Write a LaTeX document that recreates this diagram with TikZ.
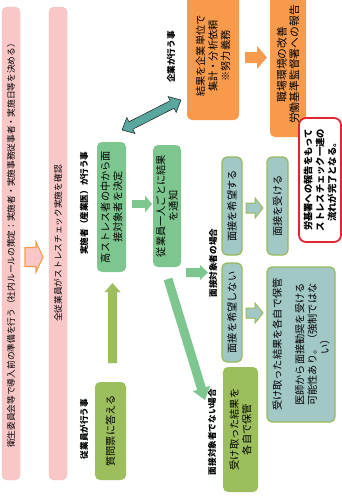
\documentclass[tikz,border=0pt]{standalone}
\usepackage{fontspec}
\setmainfont{Noto Sans CJK JP}
\usetikzlibrary{calc}
\definecolor{pinkc}{RGB}{249,199,199}
\definecolor{pinkd}{RGB}{244,184,184}
\definecolor{orangec}{RGB}{247,154,76}
\definecolor{greenc}{RGB}{126,198,143}
\definecolor{olivec}{RGB}{156,190,92}
\definecolor{olived}{RGB}{150,186,86}
\definecolor{tealc}{RGB}{162,200,198}
\definecolor{tealdark}{RGB}{90,167,160}
\definecolor{redc}{RGB}{230,35,48}
\newcommand{\blockarrow}[6][]{%
  \coordinate (ba-c) at ($(#3)!#6!(#2)$);
  \filldraw[#1] ($(#2)!#4!90:(#3)$) -- ($(ba-c)!#4!90:(#3)$) -- ($(ba-c)!#5!90:(#3)$) -- (#3) -- ($(ba-c)!#5!-90:(#3)$) -- ($(ba-c)!#4!-90:(#3)$) -- ($(#2)!#4!-90:(#3)$) -- cycle;}
\newcommand{\dblockarrow}[6][]{%
  \coordinate (da-a) at ($(#2)!#6!(#3)$);
  \coordinate (da-b) at ($(#3)!#6!(#2)$);
  \filldraw[#1] (#2) -- ($(da-a)!#5!90:(#3)$) -- ($(da-a)!#4!90:(#3)$) -- ($(da-b)!#4!90:(#3)$) -- ($(da-b)!#5!90:(#3)$) -- (#3) -- ($(da-b)!#5!-90:(#3)$) -- ($(da-b)!#4!-90:(#3)$) -- ($(da-a)!#4!-90:(#3)$) -- ($(da-a)!#5!-90:(#3)$) -- cycle;}
\tikzset{
  box/.style={rotate=90, rounded corners=5pt, align=center, inner sep=1pt, font=\fontsize{10.2}{12.5}\selectfont},
  pinkbar/.style={box, fill=pinkc, draw=pinkd, font=\fontsize{8.7}{10}\selectfont, minimum width=473pt, minimum height=18pt},
  greenbox/.style={box, fill=greenc},
  olivebox/.style={box, fill=olivec},
  orangebox/.style={box, fill=orangec},
  tealbox/.style={box, fill=tealc, draw=olived, line width=1.2pt},
  redbox/.style={box, fill=white, draw=redc, line width=1.8pt, rounded corners=7pt, font=\bfseries\fontsize{9.3}{12}\selectfont},
  lbl/.style={rotate=90, inner sep=0pt, font=\bfseries\fontsize{8.6}{10}\selectfont},
  greenarrow/.style={fill=greenc, draw=none},
  olivearrow/.style={fill=olivec, draw=none},
  orangearrow/.style={fill=orangec, draw=none},
  tealarrow/.style={fill=tealc, draw=olived, line width=1pt},
  pinkarrow/.style={fill=pinkc, draw=orangec, line width=1.1pt},
}
\begin{document}
\begin{tikzpicture}[x=1pt, y=-1pt]
\useasboundingbox (0,0) rectangle (342,501);
\fill[white] (0,0) rectangle (342,501);
% bars
\node[pinkbar] (bar1) at (11,243.5) {衛生委員会等で導入前の準備を行う（社内ルールの策定：実施者・実施事務従事者・実施日等を決める）};
\node[pinkbar] (bar2) at (58,243.5) {全従業員がストレスチェック実施を確認};
% labels
\node[lbl] (l1) at (84,429) {従業員が行う事};
\node[lbl] (l2) at (84,203) {実施者（産業医）が行う事};
\node[lbl] (l3) at (171,57) {企業が行う事};
\node[lbl] (l4) at (213,263) {面接対象者の場合};
\node[lbl] (l5) at (212,432) {面接対象者でない場合};
% boxes
\node[olivebox, minimum width=98pt, minimum height=31pt] (q) at (110.5,431) {質問票に答える};
\node[greenbox, minimum width=130pt, minimum height=29pt] (hs) at (111.5,207) {高ストレス者の中から面\\接対象者を決定};
\node[greenbox, minimum width=122pt, minimum height=28pt] (notify) at (167,206) {従業員一人ごとに結果\\を通知};
\node[orangebox, minimum width=128pt, minimum height=52pt] (agg) at (213,56) {結果を企業単位で\\集計・分析依頼\\※努力義務};
\node[orangebox, minimum width=145pt, minimum height=36pt, font=\fontsize{10.8}{12.5}\selectfont] (rep) at (288,64.5) {職場環境の改善\\労働基準監督署への報告};
\node[redbox, minimum width=124pt, minimum height=42pt] (done) at (320,180) {労基署への報告をもって\\ストレスチェック一連の\\流れが完了となる。};
\node[tealbox, minimum width=98pt, minimum height=20pt] (want) at (232,206) {面接を希望する};
\node[tealbox, minimum width=99pt, minimum height=20pt] (nowant) at (232,312.5) {面接を希望しない};
\node[olivebox, minimum width=125pt, minimum height=35pt] (keep) at (240.5,429.5) {受け取った結果を\\各自で保管};
\node[tealbox, minimum width=98pt, minimum height=21pt] (meet) at (277.5,206) {面接を受ける};
\node[tealbox, minimum width=155pt, minimum height=68pt] (keep2) at (301,344.5) {受け取った結果を各自で保管\\[10pt]医師から面接勧奨を受ける\\可能性あり。（強制ではな\\い）};
% arrow end points
\coordinate (a1s) at (25,257);  \coordinate (a1t) at (43,257);
\coordinate (a2s) at (112.5,363); \coordinate (a2t) at (112.5,283);
\coordinate (a3s) at (132,204); \coordinate (a3t) at (152,204);
\coordinate (a4s) at (122,130); \coordinate (a4t) at (181,100);
\coordinate (a5s) at (245,57.5); \coordinate (a5t) at (267,57.5);
\coordinate (a6s) at (186,272.5); \coordinate (a6t) at (208,272.5);
\coordinate (a7s) at (168,279); \coordinate (a7t) at (205,400);
\coordinate (a8s) at (246,208); \coordinate (a8t) at (263,208);
\coordinate (a9s) at (246,313); \coordinate (a9t) at (263,313);
% arrows
\blockarrow[pinkarrow]{a1s}{a1t}{9.5pt}{15pt}{7pt}
\blockarrow[olivearrow]{a2s}{a2t}{4.5pt}{8pt}{9pt}
\blockarrow[greenarrow]{a3s}{a3t}{3.8pt}{8.5pt}{7pt}
\dblockarrow[fill=tealdark]{a4s}{a4t}{4.2pt}{9pt}{10pt}
\blockarrow[orangearrow]{a5s}{a5t}{5.5pt}{11.5pt}{10pt}
\blockarrow[greenarrow]{a6s}{a6t}{4.5pt}{7.5pt}{8pt}
\blockarrow[greenarrow]{a7s}{a7t}{4.5pt}{9pt}{12pt}
\blockarrow[tealarrow]{a8s}{a8t}{5pt}{10pt}{8pt}
\blockarrow[tealarrow]{a9s}{a9t}{5pt}{10pt}{8pt}
\end{tikzpicture}
\end{document}
